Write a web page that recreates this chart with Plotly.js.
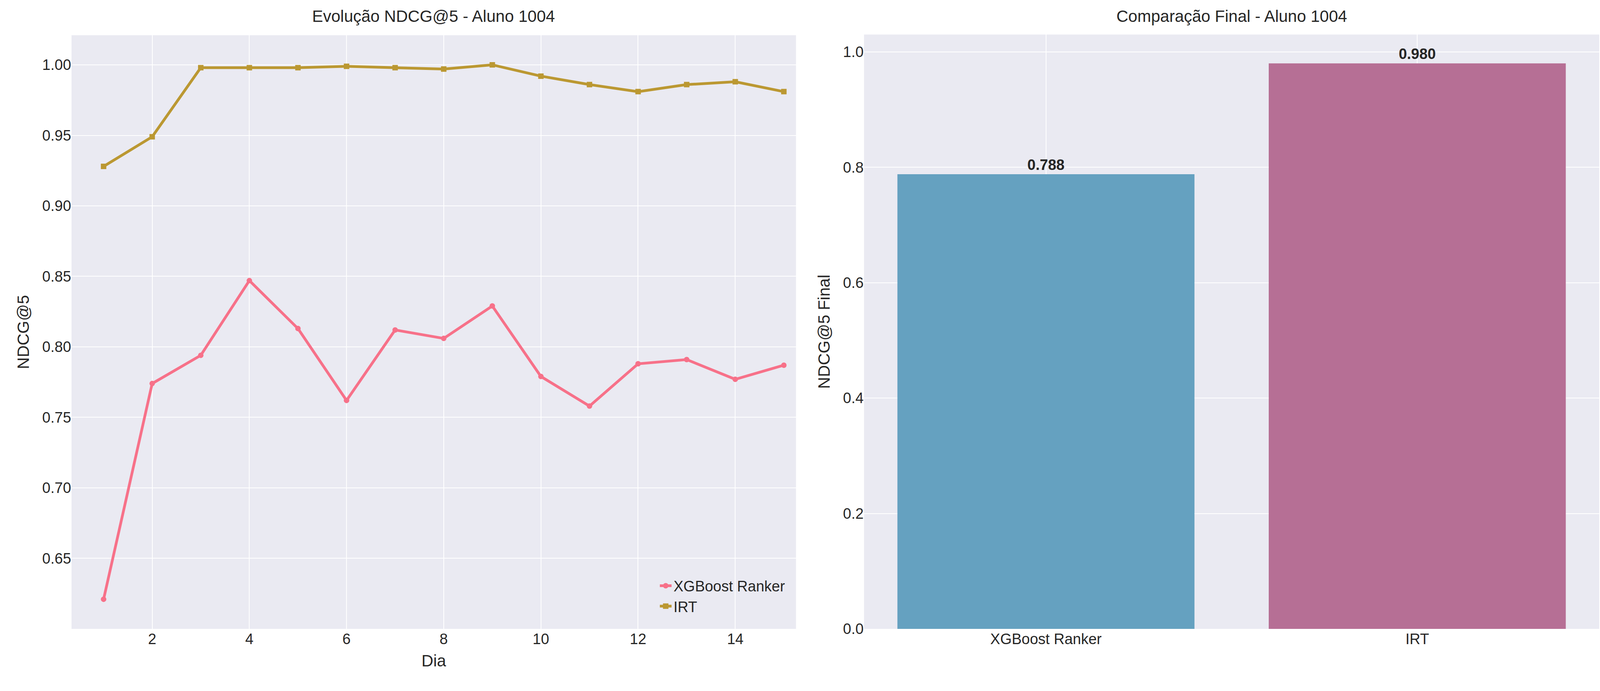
<!DOCTYPE html>
<html>
<head>
<meta charset="utf-8">
<script src="https://cdn.plot.ly/plotly-3.0.1.min.js"></script>
<style>html,body{margin:0;padding:0;background:white;overflow:hidden}#chart{width:100vw;height:100vh}</style>
</head>
<body>
<div id="chart"></div>
<script>
// Evolução NDCG@5 por dia + comparação final
const dias = [1, 2, 3, 4, 5, 6, 7, 8, 9, 10, 11, 12, 13, 14, 15];
const xgbValues = [0.621, 0.774, 0.794, 0.847, 0.813, 0.762, 0.812, 0.806, 0.829, 0.779, 0.758, 0.788, 0.791, 0.777, 0.787];
const irtValues = [0.928, 0.949, 0.998, 0.998, 0.998, 0.999, 0.998, 0.997, 1.000, 0.992, 0.986, 0.981, 0.986, 0.988, 0.981];
const modelos = ['XGBoost Ranker', 'IRT'];
const finalValues = [0.788, 0.980];

const font = {family: 'Liberation Sans, Arial, sans-serif', size: 38, color: '#262626'};

const data = [
    {
        x: dias, y: xgbValues, name: 'XGBoost Ranker', type: 'scatter', mode: 'lines+markers',
        line: {color: '#F77189', width: 7}, marker: {symbol: 'circle', size: 14, color: '#F77189'},
        xaxis: 'x', yaxis: 'y'
    },
    {
        x: dias, y: irtValues, name: 'IRT', type: 'scatter', mode: 'lines+markers',
        line: {color: '#BB9832', width: 7}, marker: {symbol: 'square', size: 14, color: '#BB9832'},
        xaxis: 'x', yaxis: 'y'
    },
    {
        x: modelos, y: finalValues, type: 'bar', showlegend: false, width: 0.8,
        marker: {color: ['#65A1C0', '#B66F95']},
        text: finalValues.map(v => '<b>' + v.toFixed(3) + '</b>'),
        textposition: 'outside', textfont: {size: 38, color: '#262626'}, cliponaxis: false,
        xaxis: 'x2', yaxis: 'y2'
    }
];

const grid = '#FFFFFF';
const layout = {
    autosize: true,
    paper_bgcolor: 'white', plot_bgcolor: '#EAEAF2',
    font: font,
    margin: {l: 0, r: 0, t: 0, b: 0},
    showlegend: true,
    legend: {x: 0.492, y: 0.105, xanchor: 'right', yanchor: 'bottom', bgcolor: 'rgba(0,0,0,0)', font: {size: 38}},
    xaxis: {
        domain: [0.0447, 0.4975], range: [0.34, 15.25], tickvals: [2, 4, 6, 8, 10, 12, 14],
        gridcolor: grid, gridwidth: 2, zeroline: false, showline: false, ticks: '',
        title: {text: 'Dia', font: {size: 42}, standoff: 20}
    },
    yaxis: {
        domain: [0.0899, 0.949], range: [0.600, 1.021], tickvals: [0.65, 0.70, 0.75, 0.80, 0.85, 0.90, 0.95, 1.00],
        tickformat: '.2f', gridcolor: grid, gridwidth: 2, zeroline: false, ticks: '',
        title: {text: 'NDCG@5', font: {size: 42}, standoff: 20}
    },
    xaxis2: {
        domain: [0.540, 0.9995], range: [-0.49, 1.49], anchor: 'y2',
        gridcolor: grid, gridwidth: 2, showgrid: true, zeroline: false, ticks: ''
    },
    yaxis2: {
        domain: [0.0899, 0.950], range: [0, 1.03], anchor: 'x2', tickvals: [0, 0.2, 0.4, 0.6, 0.8, 1.0],
        tickformat: '.1f', gridcolor: grid, gridwidth: 2, zeroline: false, ticks: '',
        title: {text: 'NDCG@5 Final', font: {size: 42}, standoff: 20}
    },
    annotations: [
        {text: 'Evolução NDCG@5 - Aluno 1004', xref: 'paper', yref: 'paper', x: 0.271, y: 0.962,
         xanchor: 'center', yanchor: 'bottom', showarrow: false, font: {size: 42}},
        {text: 'Comparação Final - Aluno 1004', xref: 'paper', yref: 'paper', x: 0.770, y: 0.962,
         xanchor: 'center', yanchor: 'bottom', showarrow: false, font: {size: 42}}
    ]
};

Plotly.newPlot('chart', data, layout, {displayModeBar: false, responsive: true});
</script>
</body>
</html>
